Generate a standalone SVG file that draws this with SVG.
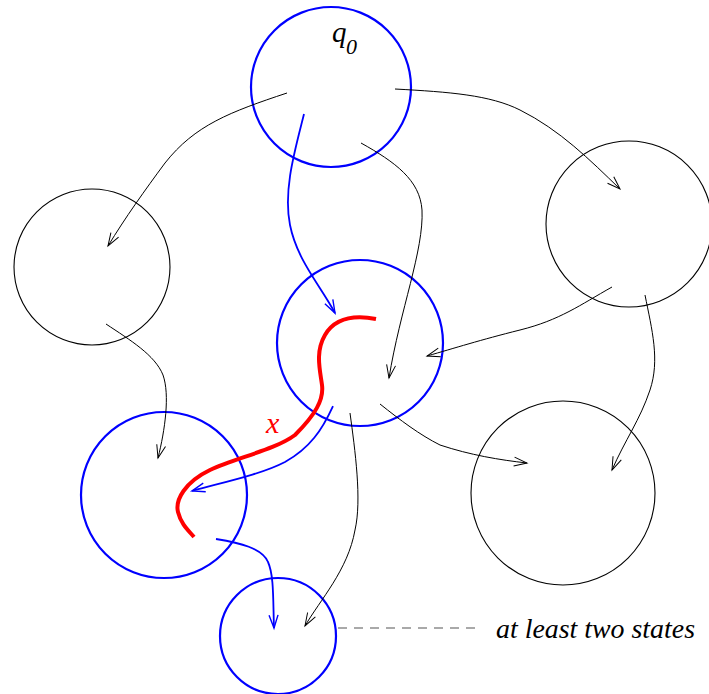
<svg xmlns="http://www.w3.org/2000/svg" width="709" height="694" viewBox="0 0 709 694">
<style>
.bs{fill:none;stroke:#0000ff;stroke-width:2.2}
.ks{fill:none;stroke:#000;stroke-width:1.1}
.bc{fill:none;stroke:#0000ff;stroke-width:1.8}
.kc{fill:none;stroke:#000;stroke-width:1}
.lbl{font-family:"Liberation Serif",serif;font-style:italic}
</style>
<defs>
<marker id="ak" viewBox="-14 -6 15 12" markerWidth="15" markerHeight="12" refX="0" refY="0" orient="auto" markerUnits="userSpaceOnUse" overflow="visible">
<path d="M-13,-4.5 L0,0 L-13,4.5" fill="none" stroke="#000" stroke-width="1"/>
</marker>
<marker id="ab" viewBox="-14 -6 15 12" markerWidth="15" markerHeight="12" refX="0" refY="0" orient="auto" markerUnits="userSpaceOnUse" overflow="visible">
<path d="M-13,-4.5 L0,0 L-13,4.5" fill="none" stroke="#0000ff" stroke-width="1.4"/>
</marker>
</defs>
<rect width="709" height="694" fill="#fff"/>
<g id="q0"><circle class="bs" cx="331" cy="87" r="80"/>
<text class="lbl" x="332" y="42" font-size="29">q</text><text class="lbl" x="346" y="54" font-size="22">0</text></g>
<g id="left"><circle class="ks" cx="92" cy="267" r="78"/></g>
<g id="right"><circle class="ks" cx="629" cy="224" r="83"/></g>
<g id="middle"><circle class="bs" cx="360" cy="343" r="83"/></g>
<g id="bottomleft"><circle class="bs" cx="164" cy="495" r="83"/></g>
<g id="bottomright"><circle class="ks" cx="563" cy="493" r="92"/></g>
<g id="small"><circle class="bs" cx="278" cy="636" r="58"/></g>
<g id="connectors">
<path class="kc" marker-end="url(#ak)" d="M287,93 C230,112 195,125 165,163 C145,190 125,218 108,246"/>
<path class="bc" marker-end="url(#ab)" d="M304,114 C295,150 283,190 290,225 C297,260 320,285 335,313"/>
<path class="kc" marker-end="url(#ak)" d="M395,89 C450,92 490,95 520,110 C560,130 590,160 620,189"/>
<path class="kc" marker-end="url(#ak)" d="M361,143 C395,162 420,180 422,210 C424,250 400,310 389,378"/>
<path class="kc" marker-end="url(#ak)" d="M612,287 C580,305 560,320 520,330 C480,340 455,348 427,356"/>
<path class="kc" marker-end="url(#ak)" d="M645,295 C652,330 660,360 650,390 C640,420 625,440 612,470"/>
<path class="kc" marker-end="url(#ak)" d="M106,324 C130,340 155,355 163,375 C170,395 165,430 158,458"/>
<path class="bc" marker-end="url(#ab)" d="M333,406 C322,430 310,448 285,462 C260,475 220,483 192,491"/>
<path class="kc" marker-end="url(#ak)" d="M350,413 C355,450 362,500 355,530 C348,570 320,600 305,626"/>
<path class="kc" marker-end="url(#ak)" d="M380,404 C400,420 420,435 440,445 C470,455 500,460 527,463"/>
<path class="bc" marker-end="url(#ab)" d="M216,539 C240,543 262,548 268,562 C274,575 273,600 274,628"/>
<path fill="none" stroke="#ff0000" stroke-width="4" d="M376,319 C355,315 335,318 325,335 C315,352 320,370 322,385 C324,400 315,415 295,435 C275,450 235,458 210,470 C185,482 175,500 178,512 C181,524 188,530 194,537"/>
<line x1="338" y1="628" x2="482" y2="628" stroke="#555" stroke-width="1.2" stroke-dasharray="9,7"/>
</g>
<text class="lbl" x="266" y="433" font-size="30" fill="#ff0000">x</text>
<text class="lbl" x="496" y="638" font-size="27" textLength="199" lengthAdjust="spacingAndGlyphs">at least two states</text>
</svg>
